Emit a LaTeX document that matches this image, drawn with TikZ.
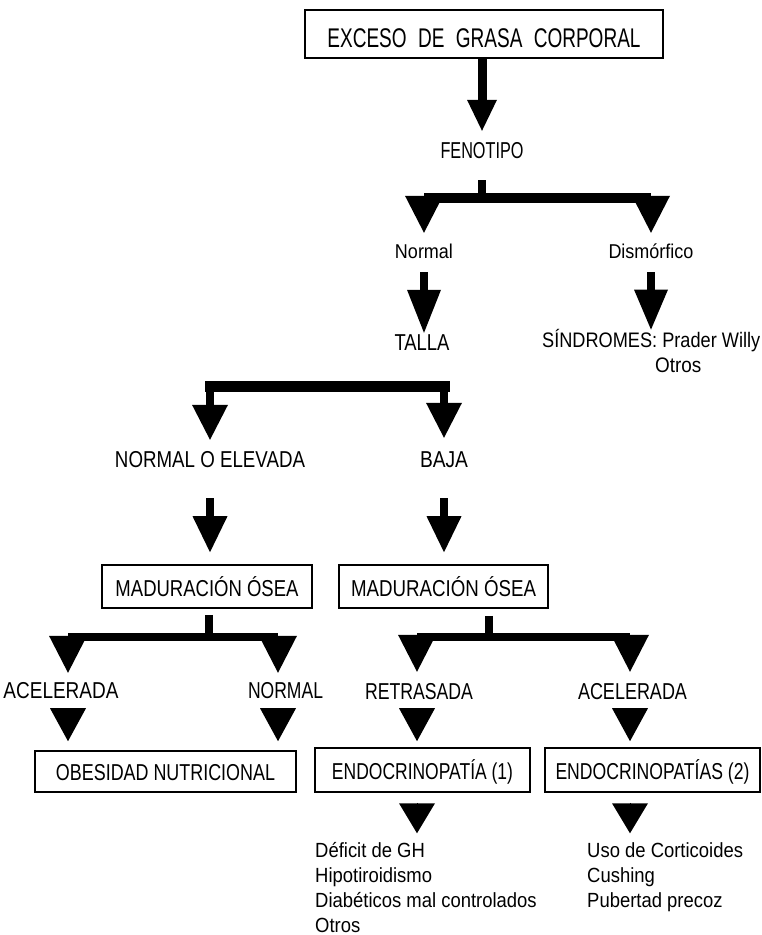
\documentclass[tikz,border=0pt]{standalone}
\usepackage{fontspec}
\setmainfont{Liberation Sans}
\newfontfamily\narrowfont[FakeStretch=0.9]{Liberation Sans}
\usetikzlibrary{arrows.meta,calc}
% squeeze a line of text horizontally to a given width, keeping its height
\newcommand\fit[2]{\resizebox{#1pt}{\height}{#2}}
\begin{document}
\begin{tikzpicture}[x=1pt,y=-1pt,
  lbl/.style={inner sep=0pt, anchor=base, text height=15pt, text depth=0pt,
    font=\fontsize{23}{23}\selectfont},
  lowlbl/.style={inner sep=0pt, anchor=base, text height=13pt, text depth=0pt,
    font=\narrowfont\fontsize{20}{20}\selectfont},
  boxnode/.style={draw, line width=1.6pt, inner sep=0pt, text height=19pt, text depth=0pt,
    font=\fontsize{23}{23}\selectfont},
  listtext/.style={inner sep=0pt, anchor=base west, font=\narrowfont\fontsize{20.5}{25}\selectfont},
  bar/.style={line width=10pt},
  stub/.style={line width=8pt},
  shaftarrow/.style 2 args={line width=8pt,
    -{Triangle[width=#1pt,length=#2pt,line width=0pt]}},
  forkhead/.style={line width=1pt,
    -{Triangle[width=38pt,length=37pt,line width=0pt]}},
  tri/.style={line width=0.5pt,
    -{Triangle[width=36pt,length=#1pt,line width=0pt]}},
  tri/.default=33,
]
\useasboundingbox (0,0) rectangle (762,935);
\fill[white] (0,0) rectangle (762,935);

% ---------- nodes ----------
\node[boxnode, text height=26pt, font=\fontsize{27}{27}\selectfont,
  minimum width=358pt, minimum height=48pt] (top) at (484,34)
  {\fit{313}{EXCESO\hspace{0.6em}DE\hspace{0.6em}GRASA\hspace{0.6em}CORPORAL}};
\node[lbl] (feno) at (482,158) {\fit{83}{FENOTIPO}};
\node[lowlbl] (normal) at (424,258) {Normal};
\node[lowlbl] (dism) at (651,258) {Dismórfico};
\node[lbl] (talla) at (422,350) {\fit{55}{TALLA}};
\node[inner sep=0pt, anchor=base west, font=\narrowfont\fontsize{21}{25}\selectfont] (sind) at (542,347)
  {\begin{tabular}[t]{@{}l@{}}\fit{218}{SÍNDROMES: Prader Willy}\\\hspace*{113pt}Otros\end{tabular}};
\node[lbl] (nelev) at (210,467) {\fit{190}{NORMAL O ELEVADA}};
\node[lbl] (baja) at (444,467) {\fit{48}{BAJA}};
\node[boxnode, minimum width=210pt, minimum height=43pt] (mad1) at (207,586.5)
  {\fit{183}{MADURACIÓN ÓSEA}};
\node[boxnode, minimum width=209pt, minimum height=43pt] (mad2) at (443.5,586.5)
  {\fit{185}{MADURACIÓN ÓSEA}};
\node[lbl] (acel1) at (61,698) {\fit{115}{ACELERADA}};
\node[lbl] (norm2) at (285.5,698) {\fit{75}{NORMAL}};
\node[lbl] (retr) at (419,699) {\fit{108}{RETRASADA}};
\node[lbl] (acel2) at (632.5,699) {\fit{109}{ACELERADA}};
\node[boxnode, text height=17pt, minimum width=261pt, minimum height=41pt] (obes) at (165.5,771.5)
  {\fit{219}{OBESIDAD NUTRICIONAL}};
\node[boxnode, minimum width=215pt, minimum height=44pt] (endo1) at (422.5,770)
  {\fit{181}{ENDOCRINOPATÍA (1)}};
\node[boxnode, minimum width=215pt, minimum height=44pt] (endo2) at (652.5,770)
  {\fit{194}{ENDOCRINOPATÍAS (2)}};
\node[listtext] (list1) at (315,857)
  {\begin{tabular}[t]{@{}l@{}}Déficit de GH\\Hipotiroidismo\\Diabéticos mal controlados\\Otros\end{tabular}};
\node[listtext] (list2) at (587,857)
  {\begin{tabular}[t]{@{}l@{}}Uso de Corticoides\\Cushing\\Pubertad precoz\end{tabular}};

% ---------- branch points ----------
\coordinate (f1) at (482,198);
\coordinate (f2) at (422,386);
\coordinate (f3) at (209,636.5);
\coordinate (f3l) at (68,636.5);
\coordinate (f3r) at (278,636.5);
\coordinate (f4) at (489,636.5);
\coordinate (f4l) at (417,636.5);
\coordinate (f4r) at (630,636.5);

% ---------- connectors ----------
\draw[shaftarrow={30}{31}, line width=9pt] (top.south -| feno.north) -- ($(feno.north)+(0,-12)$);

% phenotype fork
\draw[stub] ($(feno.south)+(0,22)$) -- (f1);
\draw[bar] (f1 -| normal) -- (f1 -| dism);
\draw[forkhead] (f1 -| normal) -- ($(normal.north)+(0,-12)$);
\draw[forkhead] (f1 -| dism) -- ($(dism.north)+(0,-12)$);

\draw[shaftarrow={34}{43}] ($(normal.south)+(0,14)$) -- ($(normal |- talla.north)+(0,-2)$);
\draw[shaftarrow={34}{40}] ($(dism.south)+(0,14)$) -- ($(dism |- sind.north)+(0,1)$);

% height fork
\draw[bar, line width=11pt, line cap=rect] (f2 -| nelev) -- (f2 -| baja);
\draw[shaftarrow={36}{35}] (f2 -| nelev) -- ($(nelev.north)+(0,-12)$);
\draw[shaftarrow={36}{35}] (f2 -| baja) -- ($(baja.north)+(0,-14)$);

\draw[shaftarrow={35}{36}] ($(nelev.south)+(0,31)$) -- ($(nelev |- mad1.north)+(0,-12)$);
\draw[shaftarrow={35}{36}] ($(baja.south)+(0,31)$) -- ($(baja |- mad2.north)+(0,-12)$);

% bone age forks
\draw[stub] ($(f3 |- mad1.south)+(0,6)$) -- (f3);
\draw[bar, line width=8pt] (f3l) -- (f3r);
\draw[forkhead] (f3l) -- ($(f3l |- acel1.north)+(0,-10)$);
\draw[forkhead] (f3r) -- ($(f3r |- norm2.north)+(0,-10)$);

\draw[stub] ($(f4 |- mad2.south)+(0,7)$) -- (f4);
\draw[bar, line width=8pt] (f4l) -- (f4r);
\draw[forkhead] (f4l) -- ($(f4l |- retr.north)+(0,-12)$);
\draw[forkhead] (f4r) -- ($(f4r |- acel2.north)+(0,-12)$);

% outcomes
\draw[tri] ($(f3l |- acel1.south)+(0,10)$) -- ($(f3l |- obes.north)+(0,-9)$);
\draw[tri] ($(f3r |- norm2.south)+(0,10)$) -- ($(f3r |- obes.north)+(0,-9)$);
\draw[tri] ($(f4l |- retr.south)+(0,9)$) -- ($(f4l |- endo1.north)+(0,-6)$);
\draw[tri] ($(f4r |- acel2.south)+(0,9)$) -- ($(f4r |- endo2.north)+(0,-6)$);
\draw[tri=30] ($(f4l |- endo1.south)+(0,10)$) -- ($(f4l |- list1.north)+(0,-6)$);
\draw[tri=30] ($(f4r |- endo2.south)+(0,10)$) -- ($(f4r |- list2.north)+(0,-6)$);
\end{tikzpicture}
\end{document}
